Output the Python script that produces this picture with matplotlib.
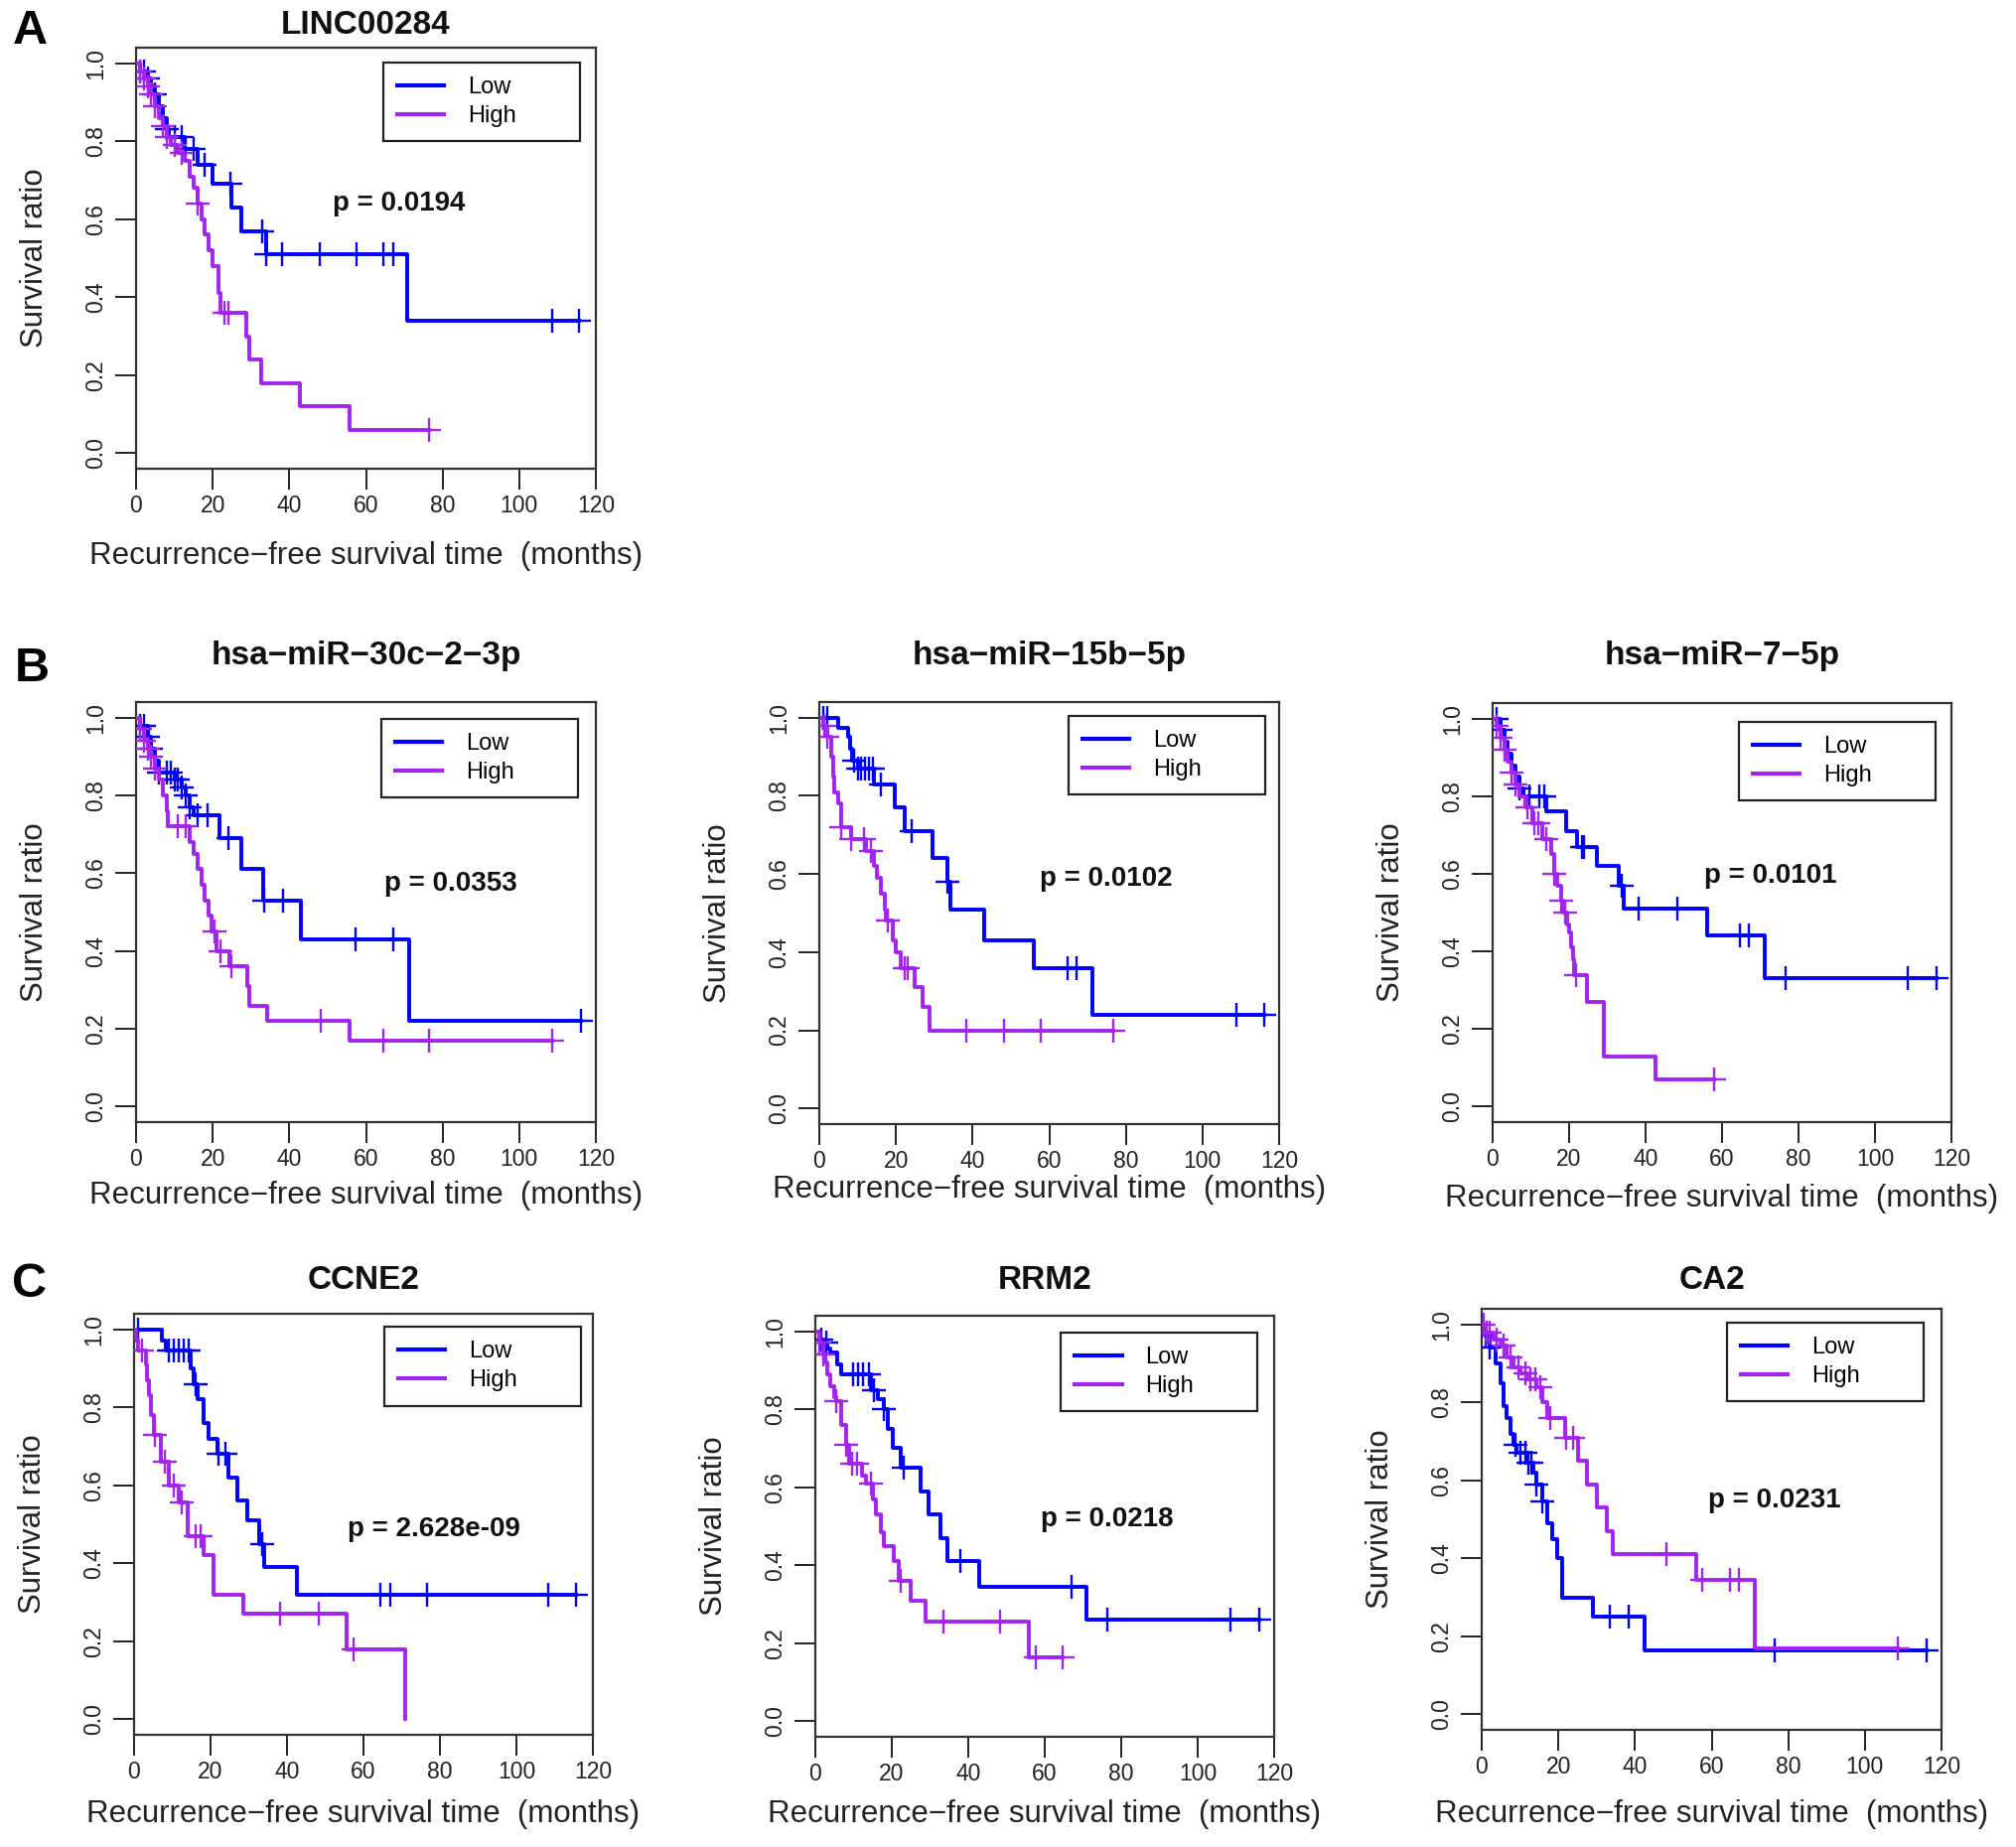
import numpy as np
import matplotlib
matplotlib.use("Agg")
import matplotlib.pyplot as plt

plt.rcParams["font.family"] = ["Liberation Sans", "DejaVu Sans"]

W, H = 2031, 1860
LOW_COLOR = "#0000FF"
HIGH_COLOR = "#A323F2"

# ---- data: step times (months), survival after each step, censor times ----
A_low_t = [0, 1, 3, 4, 5, 6, 7, 8, 8.5, 12.8, 16, 20, 25, 27.5, 34, 70.8]
A_low_s = [1.0, 0.98, 0.96, 0.94, 0.92, 0.89, 0.86, 0.83, 0.81, 0.78, 0.74, 0.69, 0.63, 0.57, 0.51, 0.34]
A_low_c = [1, 2, 3, 5, 8, 10, 12, 13, 15, 18, 24.5, 33, 34, 38, 48, 57.6, 64.5, 67, 108.5, 115.7]
A_high_t = [0, 1, 2, 3, 4, 5, 6, 7, 8, 9, 11, 12.8, 14, 15, 16, 17, 18, 19, 20, 21.5, 22, 28.8, 29.5, 32.7, 42.7, 55.7]
A_high_s = [1.0, 0.98, 0.96, 0.94, 0.92, 0.89, 0.86, 0.84, 0.81, 0.79, 0.77, 0.75, 0.71, 0.68, 0.64, 0.60, 0.56,
            0.52, 0.48, 0.41, 0.36, 0.30, 0.24, 0.18, 0.12, 0.06]
A_high_c = [1, 2, 3, 4, 5, 7, 8, 10, 12, 16, 23, 24, 76.4]

B1_low_t = [0, 1, 3, 4, 5, 6, 10, 12, 13, 14, 15, 21.7, 27.4, 33.2, 43, 71.3]
B1_low_s = [1.0, 0.98, 0.95, 0.92, 0.89, 0.86, 0.84, 0.82, 0.80, 0.77, 0.75, 0.69, 0.61, 0.53, 0.43, 0.22]
B1_low_c = [1, 2, 3, 4, 6, 8, 9, 10, 11, 12, 13, 14, 16, 18.7, 24, 33.5, 38.3, 57.4, 67.1, 116]
B1_high_t = [0, 1, 2, 3, 4, 5, 6, 7, 8, 8.3, 14, 15, 16, 17, 18, 19, 19.6, 20.9, 24.3, 29, 29.5, 34.3, 55.7]
B1_high_s = [1.0, 0.97, 0.94, 0.92, 0.90, 0.87, 0.84, 0.80, 0.76, 0.72, 0.68, 0.65, 0.61, 0.57, 0.53, 0.49,
             0.45, 0.40, 0.36, 0.31, 0.26, 0.22, 0.17]
B1_high_c = [1, 2, 3, 4, 5, 11, 13, 20.5, 22, 25, 48.3, 64.6, 76.5, 108.7]

B2_low_t = [0, 4.8, 7.4, 8, 8.5, 10, 14.3, 19.6, 22.2, 29.6, 33.5, 34.3, 43, 55.9, 71.3]
B2_low_s = [1.0, 0.975, 0.95, 0.92, 0.89, 0.87, 0.83, 0.77, 0.71, 0.64, 0.58, 0.51, 0.43, 0.36, 0.24]
B2_low_c = [1, 2, 9, 10, 11, 12, 13, 14, 16, 24, 33.5, 64.8, 67.2, 108.8, 116.1]
B2_high_t = [0, 1, 2, 3, 3.5, 4, 4.8, 5.7, 8.3, 12.2, 14.3, 15, 16.1, 17, 17.4, 19.1, 20, 21.3, 24.8, 27, 28.7]
B2_high_s = [1.0, 0.98, 0.95, 0.90, 0.85, 0.81, 0.78, 0.72, 0.69, 0.66, 0.62, 0.59, 0.55, 0.51, 0.48, 0.43,
             0.40, 0.36, 0.31, 0.26, 0.20]
B2_high_c = [1.3, 2.2, 5.7, 8.3, 11.7, 13.5, 17.8, 22.2, 23, 38.3, 48.3, 57.8, 76.8]

B3_low_t = [0, 2, 3, 4, 5, 6, 7, 8, 13.9, 19.1, 22.2, 27.4, 32.9, 34.3, 56.1, 71.1]
B3_low_s = [1.0, 0.97, 0.94, 0.91, 0.88, 0.85, 0.82, 0.80, 0.76, 0.71, 0.67, 0.62, 0.57, 0.51, 0.44, 0.33]
B3_low_c = [1, 2, 7, 9.6, 12.2, 13.5, 23.5, 24, 33.7, 38.3, 48.4, 64.6, 67.1, 76.5, 108.7, 116]
B3_high_t = [0, 1, 2, 3, 4, 5, 6, 7, 8.7, 10.4, 13, 15.2, 16, 17, 18, 18.5, 19.5, 20, 20.5, 21, 21.3, 24.8,
             29.1, 42.6]
B3_high_s = [1.0, 0.98, 0.95, 0.92, 0.89, 0.86, 0.83, 0.80, 0.77, 0.73, 0.69, 0.65, 0.60, 0.57, 0.53, 0.50,
             0.47, 0.45, 0.41, 0.38, 0.34, 0.27, 0.13, 0.07]
B3_high_c = [1, 2, 3, 5, 6, 9, 11, 12, 14, 16, 18, 19, 21.7, 57.8]

C1_low_t = [0, 7.4, 8.3, 14.8, 15.5, 16.5, 18.3, 19.6, 21.7, 24.8, 27, 29.6, 32.6, 33.9, 42.6]
C1_low_s = [1.0, 0.97, 0.945, 0.90, 0.86, 0.82, 0.76, 0.72, 0.68, 0.62, 0.56, 0.51, 0.45, 0.39, 0.32]
C1_low_c = [1, 9.1, 10.4, 11.7, 13, 14.3, 16.1, 22.2, 23.9, 33.5, 64.3, 67, 76.5, 108.3, 115.7]
C1_high_t = [0, 0.5, 1, 3, 3.5, 4, 4.5, 5.2, 7, 9.1, 11.7, 13.9, 18.3, 20.9, 28.7, 55.7, 70.9]
C1_high_s = [1.0, 0.97, 0.945, 0.91, 0.87, 0.83, 0.78, 0.73, 0.66, 0.60, 0.555, 0.47, 0.42, 0.32, 0.27, 0.18, 0.0]
C1_high_c = [2, 5.5, 8, 10.4, 12.5, 16, 17.5, 38.3, 48.3, 57.4]

C2_low_t = [0, 1, 2, 3, 4, 5.8, 6.7, 14.5, 16.3, 18, 18.9, 20.2, 22.3, 27.6, 29.7, 32.8, 34.5, 42.8, 71]
C2_low_s = [1.0, 0.98, 0.97, 0.955, 0.945, 0.915, 0.89, 0.85, 0.825, 0.80, 0.75, 0.70, 0.65, 0.59, 0.53, 0.47,
            0.41, 0.345, 0.26]
C2_low_c = [1.5, 2.8, 10, 11.2, 12.5, 14, 15.4, 18, 23.2, 38, 67.1, 76.4, 108.7, 116]
C2_high_t = [0, 1, 2, 2.5, 3, 4, 5, 5.4, 6.7, 8, 8.9, 12.3, 13.2, 15, 15.8, 17.1, 18, 20.6, 21.9, 25, 28.9, 55.8]
C2_high_s = [1.0, 0.97, 0.94, 0.92, 0.89, 0.86, 0.83, 0.82, 0.76, 0.71, 0.66, 0.63, 0.61, 0.57, 0.53, 0.485,
             0.45, 0.41, 0.36, 0.31, 0.255, 0.165]
C2_high_c = [1, 2, 5.4, 8, 9.7, 11, 14.5, 22.3, 33.6, 48.4, 57.6, 64.8]

C3_low_t = [0, 1, 2, 3.5, 4.8, 5.7, 6.5, 7.4, 8.3, 9, 12, 13.5, 14.3, 15.7, 17, 18.3, 19.6, 20.9, 29.1, 42.6]
C3_low_s = [1.0, 0.97, 0.94, 0.90, 0.85, 0.79, 0.76, 0.72, 0.69, 0.67, 0.645, 0.62, 0.59, 0.545, 0.49, 0.45,
            0.40, 0.30, 0.25, 0.165]
C3_low_c = [1, 2, 8.7, 10, 11.3, 12.2, 13, 14.3, 15.7, 33.5, 38.3, 76.5, 116.1]
C3_high_t = [0, 1, 3, 4.8, 6.5, 8.3, 10, 12, 14.3, 15.7, 17, 21.7, 25.2, 27.4, 30, 32.6, 34.3, 56.1, 71.3]
C3_high_s = [1.0, 0.98, 0.96, 0.945, 0.915, 0.89, 0.875, 0.86, 0.84, 0.80, 0.76, 0.71, 0.65, 0.59, 0.53, 0.47,
             0.41, 0.345, 0.17]
C3_high_c = [0.5, 1.3, 2.2, 4, 5.7, 7.4, 9.6, 11.3, 12.6, 13.9, 15.2, 17.8, 22, 23.9, 48.3, 57.6, 64.8, 67.2, 108.7]

titles = ["LINC00284", "hsa\u2212miR\u221230c\u22122\u22123p", "hsa\u2212miR\u221215b\u22125p",
          "hsa\u2212miR\u22127\u22125p", "CCNE2", "RRM2", "CA2"]
pvalues = ["0.0194", "0.0353", "0.0102", "0.0101", "2.628e-09", "0.0218", "0.0231"]
groups = ["Low", "High"]
xticks = [0, 20, 40, 60, 80, 100, 120]
yticks = [0.0, 0.2, 0.4, 0.6, 0.8, 1.0]

curves = [
    ((A_low_t, A_low_s, A_low_c), (A_high_t, A_high_s, A_high_c)),
    ((B1_low_t, B1_low_s, B1_low_c), (B1_high_t, B1_high_s, B1_high_c)),
    ((B2_low_t, B2_low_s, B2_low_c), (B2_high_t, B2_high_s, B2_high_c)),
    ((B3_low_t, B3_low_s, B3_low_c), (B3_high_t, B3_high_s, B3_high_c)),
    ((C1_low_t, C1_low_s, C1_low_c), (C1_high_t, C1_high_s, C1_high_c)),
    ((C2_low_t, C2_low_s, C2_low_c), (C2_high_t, C2_high_s, C2_high_c)),
    ((C3_low_t, C3_low_s, C3_low_c), (C3_high_t, C3_high_s, C3_high_c)),
]

# layout (pixel boxes: left, top, right, bottom), p-value position, legend anchor, xlabel offset
boxes = [(137, 48, 600, 472), (137, 707, 600, 1130), (825, 707, 1288, 1132), (1503, 708, 1965, 1130),
         (135, 1323, 597, 1747), (821, 1325, 1283, 1749), (1492, 1318, 1955, 1742)]
p_pos = [(68.7, 0.64), (82.2, 0.572), (74.8, 0.587), (72.6, 0.594), (78.3, 0.487), (76.3, 0.519), (76.5, 0.549)]
leg_pos = [(0.538, 0.965), (0.533, 0.96), (0.542, 0.967), (0.537, 0.955), (0.545, 0.969), (0.535, 0.96),
           (0.533, 0.967)]
title_y = [25, 660, 660, 660, 1289, 1289, 1289]
xlabel_y = [560, 1204, 1198, 1207, 1827, 1827, 1827]

fig = plt.figure(figsize=(W / 100, H / 100), dpi=100)

for i in range(7):
    l, t, r, b = boxes[i]
    ax = fig.add_axes([l / W, 1 - b / H, (r - l) / W, (b - t) / H])
    for (tt, ss, cc), col, lab in zip(curves[i], [LOW_COLOR, HIGH_COLOR], groups):
        tt = np.array(tt, float)
        ss = np.array(ss, float)
        cc = np.array(cc, float)
        end = max(tt[-1], cc.max())
        xs = np.append(tt, end)
        ys = np.append(ss, ss[-1])
        ax.step(xs, ys, where="post", color=col, lw=2.8, label=lab, zorder=3)
        idx = np.searchsorted(tt, cc, side="right") - 1
        ax.plot(cc, ss[idx], ls="none", marker="+", ms=17, mew=1.7, color=col, zorder=3)
    ax.set_xlim(0, 120)
    ax.set_ylim(-0.04, 1.04)
    ax.set_xticks(xticks)
    ax.set_yticks(yticks)
    ax.set_yticklabels([f"{v:.1f}" for v in yticks], rotation=90, va="center")
    ax.tick_params(axis="both", direction="out", length=15, width=1.4, colors="#222222", labelsize=16.5)
    ax.tick_params(axis="x", pad=4)
    ax.tick_params(axis="y", pad=6)
    for sp in ax.spines.values():
        sp.set_linewidth(1.6)
        sp.set_color("#333333")
    h = b - t
    ax.set_xlabel("Recurrence\u2212free survival time  (months)", fontsize=22.5, color="#222222")
    ax.xaxis.set_label_coords(0.5, -(xlabel_y[i] - b) / h)
    ax.xaxis.label.set_va("center")
    ax.set_ylabel("Survival ratio", fontsize=22.5, color="#222222")
    ax.yaxis.set_label_coords(-0.22, 0.5)
    ax.yaxis.label.set_va("center")
    ax.text(0.5, (b - title_y[i]) / h, titles[i], transform=ax.transAxes, ha="center", va="center",
            fontsize=24, fontweight="bold", color="#111111")
    px, py = p_pos[i]
    ax.text(px, py, f"p = {pvalues[i]}", ha="center", va="center", fontsize=20, fontweight="bold",
            color="#111111")
    lx, ly = leg_pos[i]
    leg = ax.legend(loc="upper left", bbox_to_anchor=(lx, ly - 0.21, 0.428, 0.21), mode="expand",
                    fontsize=17, handlelength=2.0, handletextpad=1.0, borderpad=0.6, labelspacing=0.3,
                    fancybox=False, framealpha=1, edgecolor="#222222", borderaxespad=0)
    leg.get_frame().set_linewidth(1.6)
    for line in leg.get_lines():
        line.set_linewidth(3.0)

for letter, (x, y) in zip(["A", "B", "C"], [(30, 32), (32, 673), (30, 1293)]):
    fig.text(x / W, 1 - y / H, letter, ha="center", va="center", fontsize=35, fontweight="bold")

fig.savefig("out.png", dpi=100)
